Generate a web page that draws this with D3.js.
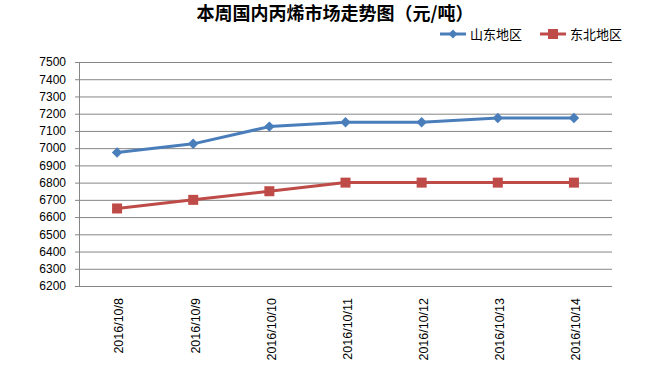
<!DOCTYPE html>
<html lang="zh">
<head>
<meta charset="UTF-8">
<title>本周国内丙烯市场走势图</title>
<style>
  body { margin: 0; background: #fff; }
  svg { display: block; }
</style>
</head>
<body>
<script src="https://cdn.jsdelivr.net/npm/d3@7/dist/d3.min.js"></script>
<script>
var dates = ["2016/10/8", "2016/10/9", "2016/10/10", "2016/10/11", "2016/10/12", "2016/10/13", "2016/10/14"];
var shandong = [6975, 7025, 7125, 7150, 7150, 7175, 7175];
var dongbei = [6650, 6700, 6750, 6800, 6800, 6800, 6800];
var seriesNames = ["山东地区", "东北地区"];
var yTicks = d3.range(6200, 7501, 100);

var w = 650, h = 367;
var plotL = 79, plotR = 612, plotT = 62, plotB = 286;
var font = "'Liberation Sans', Arial, sans-serif";

var svg = d3.select("body").append("svg")
    .attr("width", w)
    .attr("height", h);

var x = d3.scaleBand().domain(dates).range([plotL, plotR]);
var y = d3.scaleLinear().domain([6200, 7500]).range([plotB, plotT]);

// 网格线 + y轴
var yAxis = d3.axisLeft(y).tickValues(yTicks).tickSize(-(plotR - plotL)).tickPadding(13).tickFormat(d3.format("d"));
var gy = svg.append("g").attr("transform", "translate(" + plotL + ",0)").call(yAxis);
gy.select(".domain").attr("stroke", "#868686");
gy.selectAll(".tick line").attr("stroke", "#868686").attr("x1", -4);
gy.selectAll(".tick text").attr("font-family", font).attr("font-size", "12px").attr("fill", "#000");

// x轴
var xAxis = d3.axisBottom(x).tickSize(0).tickPadding(0);
var gx = svg.append("g").attr("transform", "translate(0," + plotB + ")").call(xAxis);
gx.select(".domain").remove();
gx.selectAll(".tick text")
    .attr("font-family", font).attr("font-size", "12.5px").attr("fill", "#000")
    .attr("transform", "rotate(-90)")
    .attr("x", -12).attr("y", 2).attr("dy", "0.35em")
    .attr("text-anchor", "end");

var line = d3.line()
    .x(function(d, i) { return x(dates[i]) + x.bandwidth() / 2; })
    .y(function(d) { return y(d); });

var colors = ["#4A7EBB", "#BE4B48"];

// 山东
svg.append("path").datum(shandong)
    .attr("d", line).attr("fill", "none")
    .attr("stroke", colors[0]).attr("stroke-width", 3).attr("stroke-linejoin", "round");
svg.selectAll(".dia").data(shandong).enter().append("path")
    .attr("class", "dia")
    .attr("d", d3.symbol().type(d3.symbolDiamond2).size(70))
    .attr("transform", function(d, i) { return "translate(" + (x(dates[i]) + x.bandwidth() / 2) + "," + y(d) + ")"; })
    .attr("fill", colors[0]);

// 东北
svg.append("path").datum(dongbei)
    .attr("d", line).attr("fill", "none")
    .attr("stroke", colors[1]).attr("stroke-width", 3).attr("stroke-linejoin", "round");
svg.selectAll(".sq").data(dongbei).enter().append("rect")
    .attr("class", "sq")
    .attr("x", function(d, i) { return x(dates[i]) + x.bandwidth() / 2 - 5; })
    .attr("y", function(d) { return y(d) - 5; })
    .attr("width", 10).attr("height", 10)
    .attr("fill", colors[1]);

// 标题
svg.append("text")
    .attr("x", 335).attr("y", 20)
    .attr("text-anchor", "middle")
    .attr("font-family", "'Noto Sans CJK SC', sans-serif")
    .attr("font-size", "18px").attr("font-weight", "bold")
    .text("本周国内丙烯市场走势图（元/吨）");

// 图例
var legend = svg.append("g");
var lx = [440, 540];
seriesNames.forEach(function(name, i) {
    legend.append("line")
        .attr("x1", lx[i]).attr("x2", lx[i] + 26)
        .attr("y1", 34).attr("y2", 34)
        .attr("stroke", colors[i]).attr("stroke-width", 3);
    if (i === 0) {
        legend.append("path")
            .attr("d", d3.symbol().type(d3.symbolDiamond2).size(50))
            .attr("transform", "translate(" + (lx[i] + 13) + ",34)")
            .attr("fill", colors[i]);
    } else {
        legend.append("rect")
            .attr("x", lx[i] + 8).attr("y", 29).attr("width", 10).attr("height", 10)
            .attr("fill", colors[i]);
    }
    legend.append("text")
        .attr("x", lx[i] + 30).attr("y", 34).attr("dy", "0.35em")
        .attr("font-family", "'Noto Sans CJK SC', sans-serif")
        .attr("font-size", "13px")
        .text(name);
});
</script>
</body>
</html>
